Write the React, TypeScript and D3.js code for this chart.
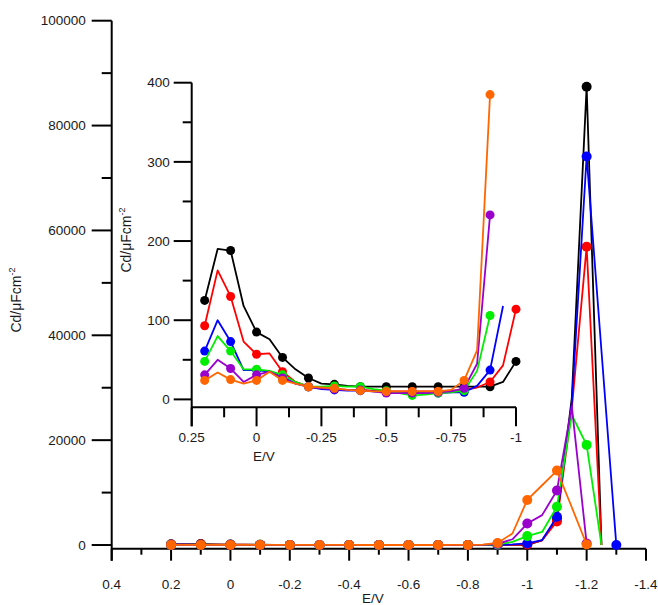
import React from 'react';
import * as d3 from 'd3';

// Potential grid (V)
const E = [0.2, 0.15, 0.1, 0.05, 0, -0.05, -0.1, -0.15, -0.2, -0.25, -0.3, -0.35, -0.4, -0.45, -0.5, -0.55, -0.6, -0.65, -0.7, -0.75, -0.8, -0.85, -0.9, -0.95, -1.0, -1.05, -1.1, -1.15, -1.2, -1.25, -1.3];

// Cd values (µF cm^-2) per series
const blackCd = [125, 190, 188, 118, 85, 76, 53, 38, 27, 20, 19, 17, 16, 16, 16, 16, 16, 16, 16, 16, 16, 16, 16, 22, 48, 900, 5000, 28000, 87400, 0];
const redCd = [93, 163, 130, 73, 57, 58, 35, 22, 16, 14, 13, 12, 12, 11, 10, 10, 10, 10, 10, 11, 12, 15, 22, 43, 114, 900, 4500, 26000, 56900, 0];
const blueCd = [61, 100, 73, 37, 37, 35, 29, 20, 16, 13, 12, 11, 11, 10, 9, 9, 9, 8, 8, 9, 9, 17, 37, 118, 300, 950, 5400, 27000, 74100, 37000, 0];
const greenCd = [48, 80, 61, 38, 38, 36, 31, 22, 16, 16, 17, 16, 16, 13, 11, 8, 5, 6, 8, 9, 11, 36, 106, 600, 1700, 2500, 7300, 24800, 19100, 0];
const purpleCd = [31, 50, 39, 22, 31, 35, 27, 20, 16, 14, 13, 12, 12, 10, 8, 8, 8, 8, 9, 10, 14, 45, 233, 1100, 4100, 5700, 10400, 26500, 300];
const orangeCd = [24, 34, 25, 20, 24, 35, 24, 20, 16, 15, 14, 12, 11, 10, 10, 10, 10, 10, 10, 12, 24, 62, 385, 2200, 8600, 11400, 14200, 7200, 100];

const seriesValues = [blackCd, redCd, blueCd, greenCd, purpleCd, orangeCd];
const seriesColors = ['#000000', '#ff0000', '#0000ff', '#00ee00', '#9900cc', '#ff6600'];
// number of points shown in the inset for each series
const insetCounts = [25, 25, 24, 23, 23, 23];

const mainXTicks = [0.4, 0.2, 0, -0.2, -0.4, -0.6, -0.8, -1, -1.2, -1.4];
const mainXLabels = ['0.4', '0.2', '0', '-0.2', '-0.4', '-0.6', '-0.8', '-1', '-1.2', '-1.4'];
const mainXMinor = [0.3, 0.1, -0.1, -0.3, -0.5, -0.7, -0.9, -1.1, -1.3];
const mainYTicks = [0, 20000, 40000, 60000, 80000, 100000];
const mainYMinor = [10000, 30000, 50000, 70000, 90000];

const insetXTicks = [0.25, 0, -0.25, -0.5, -0.75, -1];
const insetXLabels = ['0.25', '0', '-0.25', '-0.5', '-0.75', '-1'];
const insetXMinor = [0.125, -0.125, -0.375, -0.625, -0.875];
const insetYTicks = [0, 100, 200, 300, 400];
const insetYMinor = [50, 150, 250, 350];

const FONT = 'Liberation Sans, Arial, sans-serif';
const TXT = '#1a1a1a';
const FS = 13.5;

type Pt = [number, number];

export default function App() {
  const x = d3.scaleLinear().domain([0.4, -1.4]).range([111.7, 646]);
  const y = d3.scaleLinear().domain([-700, 100000]).range([548.7, 20.7]);
  const xi = d3.scaleLinear().domain([0.25, -1]).range([191.7, 516]);
  const yi = d3.scaleLinear().domain([-10, 400]).range([407.3, 82.7]);

  const mainLine = d3.line<Pt>().x(d => x(d[0])).y(d => y(d[1]));
  const insetLine = d3.line<Pt>().x(d => xi(d[0])).y(d => yi(d[1]));

  const mainPts = seriesValues.map(vals => vals.map((v, i) => [E[i], v] as Pt));
  const insetPts = seriesValues.map((vals, s) => vals.slice(0, insetCounts[s]).map((v, i) => [E[i], v] as Pt));

  const yAxisX = x(0.4);
  const xAxisY = y(-700);
  const iyAxisX = xi(0.25);
  const ixAxisY = yi(-10);

  return (
    <svg width={658} height={605} style={{ position: 'absolute', left: 0, top: 0, background: '#fff' }}
      fontFamily={FONT}>
      <rect x={0} y={0} width={658} height={605} fill="#fff" />

      {/* ===== main axes ===== */}
      <line x1={yAxisX} x2={yAxisX} y1={y(100000)} y2={xAxisY + 12} stroke="#000" strokeWidth={2} />
      <line x1={yAxisX} x2={x(-1.4)} y1={xAxisY} y2={xAxisY} stroke="#000" strokeWidth={2} />
      {mainYTicks.map(t => (
        <g key={'my' + t}>
          <line x1={yAxisX - 20} x2={yAxisX} y1={y(t)} y2={y(t)} stroke="#000" strokeWidth={2} />
          <text x={yAxisX - 26} y={y(t)} dy="0.35em" textAnchor="end" fontSize={FS} fill={TXT}>{t}</text>
        </g>
      ))}
      {mainYMinor.map(t => (
        <line key={'mym' + t} x1={yAxisX - 10} x2={yAxisX} y1={y(t)} y2={y(t)} stroke="#000" strokeWidth={2} />
      ))}
      {mainXTicks.map((t, i) => (
        <g key={'mx' + t}>
          <line x1={x(t)} x2={x(t)} y1={xAxisY} y2={xAxisY + 12} stroke="#000" strokeWidth={2} />
          <text x={x(t)} y={xAxisY + 40} textAnchor="middle" fontSize={FS} fill={TXT}>{mainXLabels[i]}</text>
        </g>
      ))}
      {mainXMinor.map(t => (
        <line key={'mxm' + t} x1={x(t)} x2={x(t)} y1={xAxisY} y2={xAxisY + 6} stroke="#000" strokeWidth={2} />
      ))}
      <text x={373} y={603} textAnchor="middle" fontSize={FS} fill={TXT}>E/V</text>
      <text transform={`translate(21,300) rotate(-90)`} textAnchor="middle" fontSize={14} fill={TXT}>
        Cd/μFcm<tspan fontSize={9} dy={-6}>-2</tspan>
      </text>

      {/* ===== main series ===== */}
      {mainPts.map((pts, s) => (
        <g key={'ms' + s}>
          <path d={mainLine(pts) || ''} fill="none" stroke={seriesColors[s]} strokeWidth={1.8} strokeLinejoin="round" />
          {pts.map((p, i) => i % 2 === 0 ? (
            <circle key={i} cx={x(p[0])} cy={y(p[1])} r={5} fill={seriesColors[s]} />
          ) : null)}
        </g>
      ))}

      {/* ===== inset axes ===== */}
      <line x1={iyAxisX} x2={iyAxisX} y1={yi(400)} y2={ixAxisY + 19} stroke="#000" strokeWidth={2} />
      <line x1={iyAxisX} x2={xi(-1)} y1={ixAxisY} y2={ixAxisY} stroke="#000" strokeWidth={2} />
      {insetYTicks.map(t => (
        <g key={'iy' + t}>
          <line x1={iyAxisX - 18} x2={iyAxisX} y1={yi(t)} y2={yi(t)} stroke="#000" strokeWidth={2} />
          <text x={iyAxisX - 22} y={yi(t)} dy="0.35em" textAnchor="end" fontSize={FS} fill={TXT}>{t}</text>
        </g>
      ))}
      {insetYMinor.map(t => (
        <line key={'iym' + t} x1={iyAxisX - 9} x2={iyAxisX} y1={yi(t)} y2={yi(t)} stroke="#000" strokeWidth={2} />
      ))}
      {insetXTicks.map((t, i) => (
        <g key={'ix' + t}>
          <line x1={xi(t)} x2={xi(t)} y1={ixAxisY} y2={ixAxisY + 19} stroke="#000" strokeWidth={2} />
          <text x={xi(t)} y={ixAxisY + 35} textAnchor="middle" fontSize={FS} fill={TXT}>{insetXLabels[i]}</text>
        </g>
      ))}
      {insetXMinor.map(t => (
        <line key={'ixm' + t} x1={xi(t)} x2={xi(t)} y1={ixAxisY} y2={ixAxisY + 10} stroke="#000" strokeWidth={2} />
      ))}
      <text x={264} y={461} textAnchor="middle" fontSize={FS} fill={TXT}>E/V</text>
      <text transform={`translate(131,240) rotate(-90)`} textAnchor="middle" fontSize={14} fill={TXT}>
        Cd/μFcm<tspan fontSize={9} dy={-6}>-2</tspan>
      </text>

      {/* ===== inset series ===== */}
      {insetPts.map((pts, s) => (
        <g key={'is' + s}>
          <path d={insetLine(pts) || ''} fill="none" stroke={seriesColors[s]} strokeWidth={1.8} strokeLinejoin="round" />
          {pts.map((p, i) => i % 2 === 0 ? (
            <circle key={i} cx={xi(p[0])} cy={yi(p[1])} r={4.5} fill={seriesColors[s]} />
          ) : null)}
        </g>
      ))}
    </svg>
  );
}
